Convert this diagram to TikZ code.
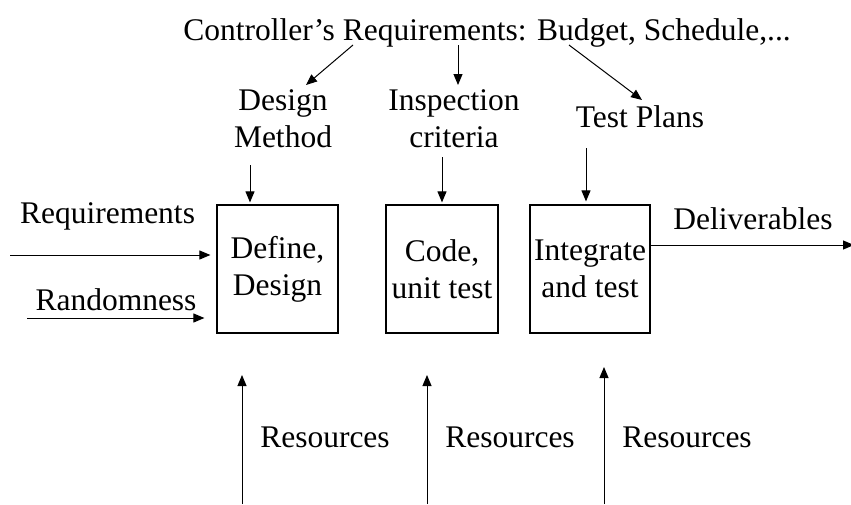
\documentclass[tikz,border=0pt]{standalone}
\usepackage{fontspec}
\setmainfont{Liberation Serif}
\usepackage{tikz}
\usetikzlibrary{positioning,calc,arrows.meta}

\tikzset{
    stage/.style={draw, line width=1.2pt, minimum height=128pt, align=center, inner sep=0pt},
    lbl/.style={align=center, inner sep=0pt},
    arr/.style={line width=1pt, -{Triangle[length=11pt,width=9pt]}},
}

\begin{document}
\begin{tikzpicture}[x=1pt, y=-1pt, font=\fontsize{31.5}{37}\selectfont]
    \useasboundingbox (0,0) rectangle (851,504);

    % Controller on top
    \node [lbl, anchor=base] (ctrl) at (487,40) {Controller's Requirements: Budget, Schedule,...};
    \node [lbl] (dmeth) at (283,119) {Design\\Method};
    \node [lbl] (icrit) at (454,119) {Inspection\\criteria};
    \node [lbl, anchor=base] (tplan) at (640,127) {Test Plans};
    \coordinate (c1) at (353,45);  \coordinate (c1e) at (306,85);
    \coordinate (c2) at (458,45);  \coordinate (c2e) at (458,85);
    \coordinate (c3) at (569,45);  \coordinate (c3e) at (642,100);
    \draw [arr] (c1) -- (c1e);
    \draw [arr] (c2) -- (c2e);
    \draw [arr] (c3) -- (c3e);

    % Process stages
    \node [stage, minimum width=121pt] (define) at (277.5,269) {Define,\\Design};
    \node [stage, minimum width=112pt] (code) at (442,269) {Code,\\unit test};
    \node [stage, minimum width=120pt] (integ) at (590,269) {Integrate\\and test};

    % Guidance into the stages
    \coordinate (g1) at (250,165);
    \coordinate (g2) at (442,157);
    \coordinate (g3) at (586,148);
    \draw [arr, shorten >=2pt] (g1) -- (g1 |- define.north);
    \draw [arr, shorten >=2pt] (g2) -- (g2 |- code.north);
    \draw [arr, shorten >=3pt] (g3) -- (g3 |- integ.north);

    % Inputs and output
    \node [lbl, anchor=base] (req) at (107.5,223) {Requirements};
    \node [lbl, anchor=base] (rnd) at (116,310) {Randomness};
    \node [lbl, anchor=base] (dlv) at (753,229) {Deliverables};
    \coordinate (reqin) at (10,255);
    \coordinate (rndin) at (27,318);
    \coordinate (dlvout) at (854,245);
    \draw [arr, shorten >=6pt] (reqin) -- (reqin -| define.west);
    \draw [arr, shorten >=12pt] (rndin) -- (rndin -| define.west);
    \draw [arr] (integ.east |- dlvout) -- (dlvout);

    % Resources from below
    \node [lbl, anchor=base] (res1) at (325,447) {Resources};
    \node [lbl, anchor=base] (res2) at (510,447) {Resources};
    \node [lbl, anchor=base] (res3) at (687,447) {Resources};
    \coordinate (r1) at (242,504);  \coordinate (r1e) at (242,375);
    \coordinate (r2) at (427,504);  \coordinate (r2e) at (427,375);
    \coordinate (r3) at (604,504);  \coordinate (r3e) at (604,367);
    \draw [arr] (r1) -- (r1e);
    \draw [arr] (r2) -- (r2e);
    \draw [arr] (r3) -- (r3e);
\end{tikzpicture}
\end{document}
